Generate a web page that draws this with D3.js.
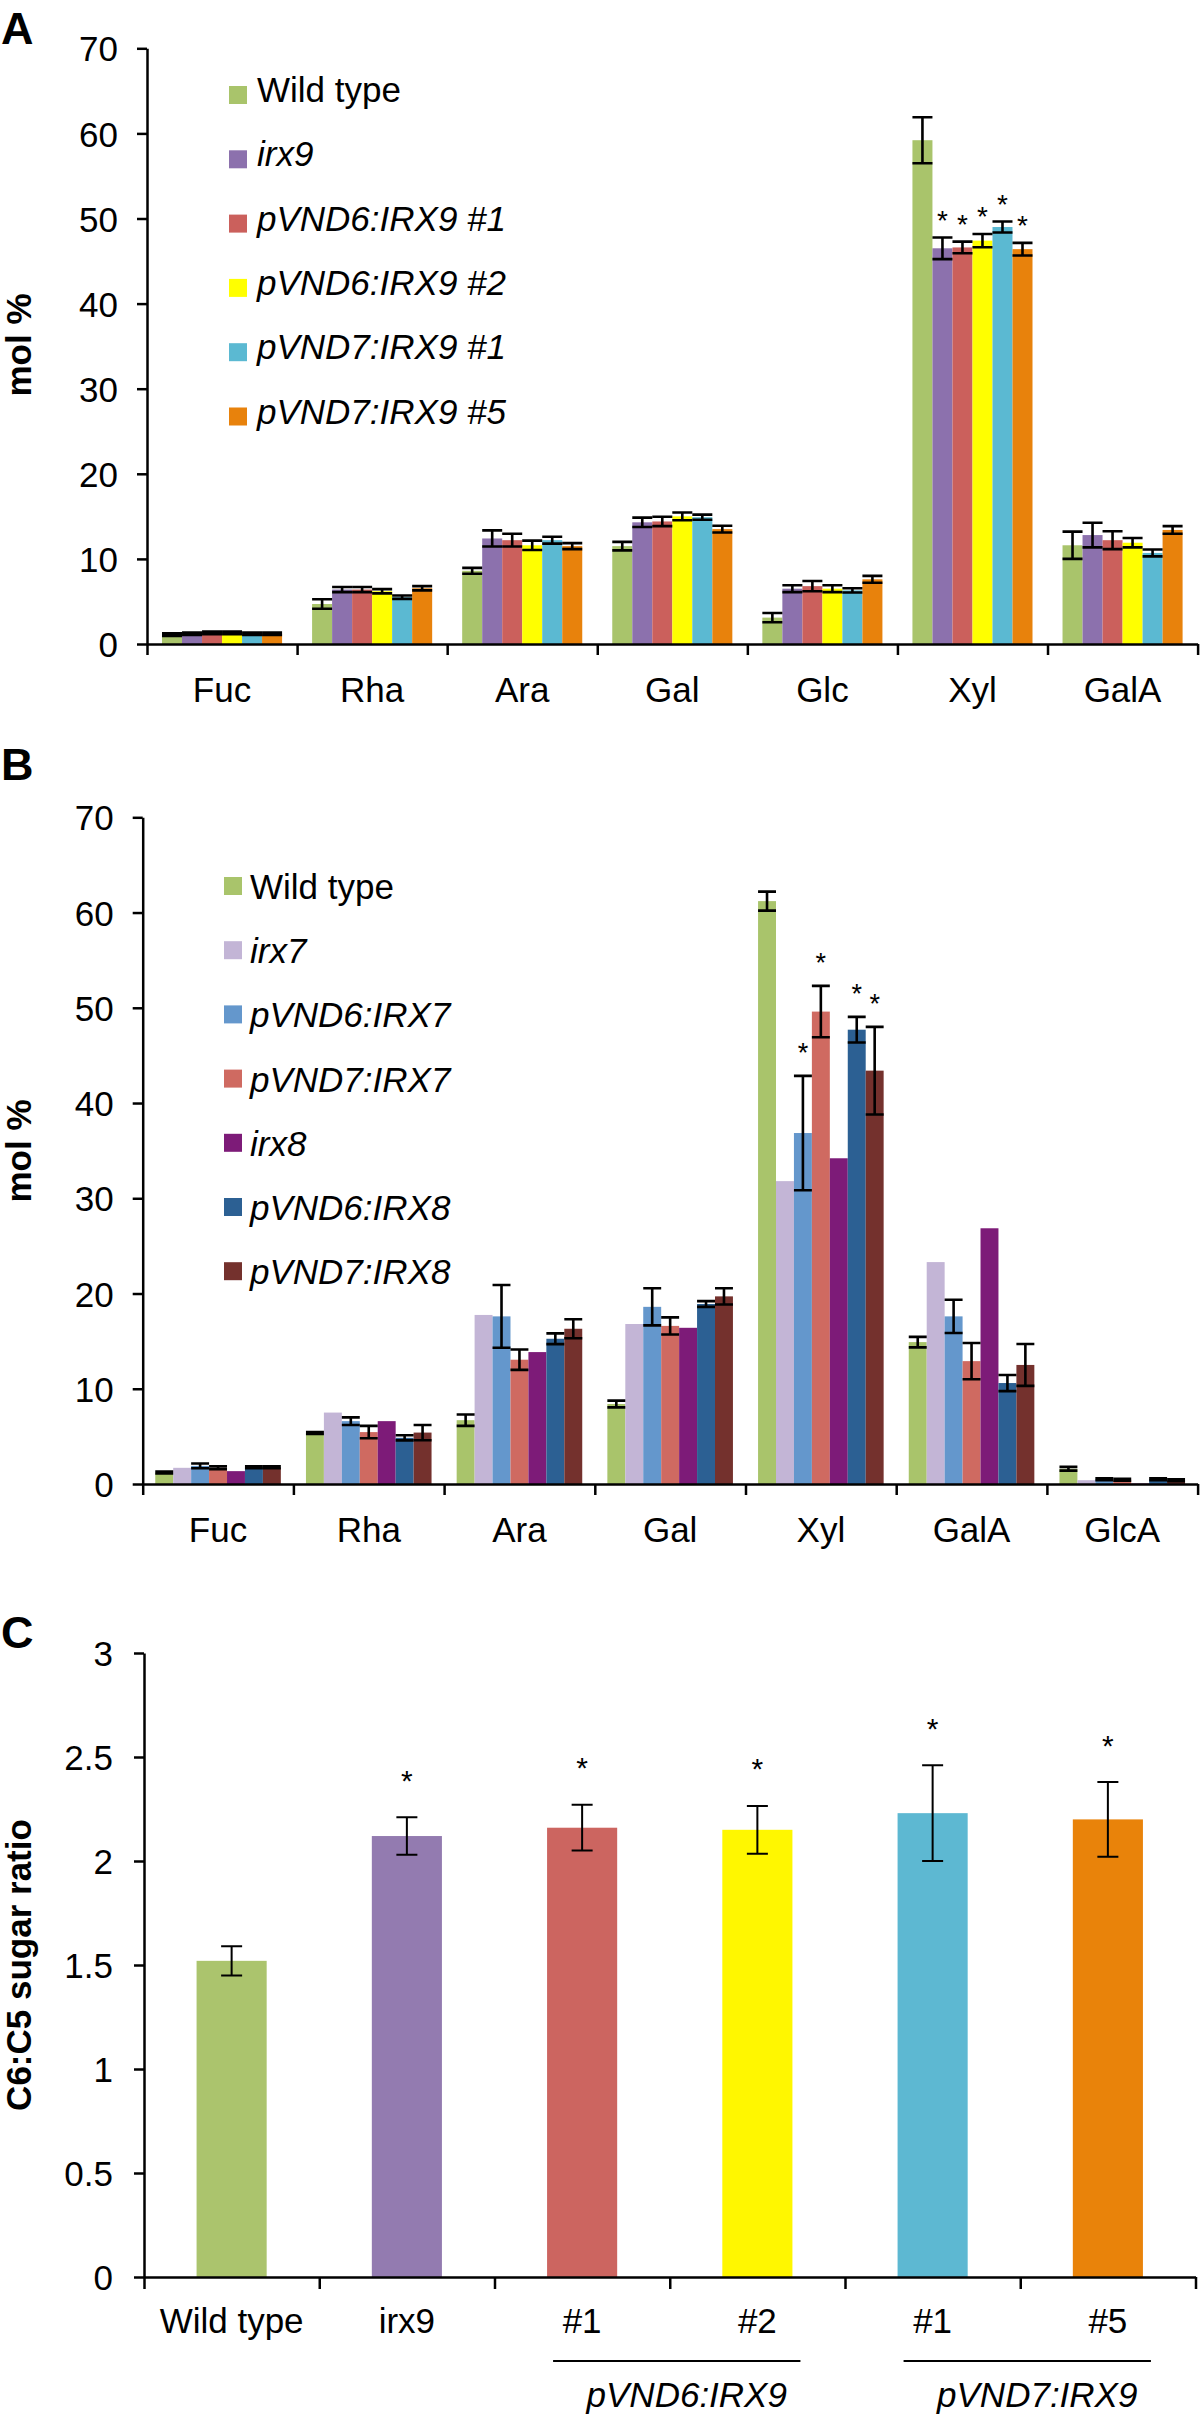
<!DOCTYPE html>
<html>
<head>
<meta charset="utf-8">
<script src="https://cdn.jsdelivr.net/npm/d3@7"></script>
<style>
    body { margin: 0; background: #fff; }
    svg text { font-family: "Liberation Sans", Arial, Helvetica, sans-serif; fill: #000; }
</style>
</head>
<body>
<svg id="fig" width="1200" height="2418"></svg>
<script>
'use strict';

// ---- panel A data ----
var sugarsA = ["Fuc", "Rha", "Ara", "Gal", "Glc", "Xyl", "GalA"];
var linesA = ["Wild type", "irx9", "pVND6:IRX9 #1", "pVND6:IRX9 #2", "pVND7:IRX9 #1", "pVND7:IRX9 #5"];
var molA = [
    [1.1, 4.7, 8.6, 11.5, 3.1, 59.2, 11.6],
    [1.2, 6.4, 12.4, 14.3, 6.5, 46.5, 12.8],
    [1.3, 6.4, 12.2, 14.4, 6.8, 46.6, 12.2],
    [1.3, 6.2, 11.6, 15.0, 6.5, 47.4, 11.9],
    [1.2, 5.5, 12.2, 14.9, 6.3, 49.0, 10.7],
    [1.2, 6.55, 11.5, 13.5, 7.6, 46.4, 13.4]
];
var errA = [
    [0.15, 0.55, 0.35, 0.5, 0.55, 2.7, 1.6],
    [0.15, 0.3, 0.95, 0.55, 0.4, 1.27, 1.45],
    [0.15, 0.3, 0.75, 0.55, 0.6, 0.68, 1.05],
    [0.15, 0.25, 0.55, 0.45, 0.4, 0.78, 0.55],
    [0.15, 0.2, 0.4, 0.3, 0.25, 0.65, 0.4],
    [0.15, 0.25, 0.35, 0.4, 0.4, 0.74, 0.45]
];
// [sugar index, line index] with an asterisk
var sigA = [[5, 1], [5, 2], [5, 3], [5, 4], [5, 5]];

// ---- panel B data ----
var sugarsB = ["Fuc", "Rha", "Ara", "Gal", "Xyl", "GalA", "GlcA"];
var linesB = ["Wild type", "irx7", "pVND6:IRX7", "pVND7:IRX7", "irx8", "pVND6:IRX8", "pVND7:IRX8"];
var molB = [
    [1.2, 5.35, 6.7, 8.4, 61.2, 14.9, 1.6],
    [1.7, 7.5, 17.75, 16.8, 31.8, 23.3, 0.4],
    [1.9, 6.6, 17.6, 18.6, 36.85, 17.6, 0.5],
    [1.7, 5.45, 13.05, 16.6, 49.6, 12.9, 0.45],
    [1.35, 6.6, 13.85, 16.4, 34.2, 26.85, 0.05],
    [1.75, 4.85, 15.25, 18.9, 47.7, 10.6, 0.5],
    [1.75, 5.4, 16.3, 19.7, 43.4, 12.5, 0.4]
];
var errB = [
    [0.1, 0.1, 0.6, 0.35, 1.0, 0.55, 0.2],
    null,
    [0.25, 0.4, 3.3, 1.95, 6.0, 1.75, 0.1],
    [0.15, 0.65, 1.07, 0.9, 2.7, 1.9, 0.1],
    null,
    [0.1, 0.27, 0.56, 0.3, 1.35, 0.85, 0.1],
    [0.1, 0.8, 1.0, 0.85, 4.6, 2.2, 0.1]
];
var sigB = [[4, 2], [4, 3], [4, 5], [4, 6]];

// ---- panel C data ----
var linesC = ["Wild type", "irx9", "#1", "#2", "#1", "#5"];
var ratioC = [1.52, 2.12, 2.16, 2.15, 2.23, 2.20];
var errC = [0.07, 0.09, 0.11, 0.115, 0.23, 0.18];
var sigC = [1, 2, 3, 4, 5];
var groupsC = [
    {label: "pVND6:IRX9", from: 2, to: 3},
    {label: "pVND7:IRX9", from: 4, to: 5}
];

var colorsA = ["#a9c46b", "#8c71ad", "#cb605c", "#ffff00", "#5bb9d2", "#e8820c"];
var colorsB = ["#a9c46b", "#c3b5d6", "#6497cc", "#cf6a61", "#7d1b78", "#2c6093", "#74312d"];
var colorsC = ["#abc46d", "#937bb0", "#cc6560", "#fff700", "#5db8d2", "#e9830a"];

var FONT = "'Liberation Sans', Arial, Helvetica, sans-serif";
var svg = d3.select("#fig");

function styleAxis(g, fontSize) {
    g.attr("font-family", FONT).attr("font-size", fontSize);
    g.selectAll("path, line").attr("stroke", "#000").attr("stroke-width", 2.5);
    g.selectAll("text").attr("fill", "#000");
}

function panelLetter(letter, y) {
    svg.append("text")
        .attr("x", 1)
        .attr("y", y)
        .attr("font-size", 45)
        .attr("font-weight", "bold")
        .text(letter);
}

function yTitle(label, cx, cy) {
    svg.append("text")
        .attr("transform", "translate(" + cx + "," + cy + ") rotate(-90)")
        .attr("text-anchor", "middle")
        .attr("font-size", 35)
        .attr("font-weight", "bold")
        .text(label);
}

function groupedPanel(p) {
    var g = svg.append("g");

    var x = d3.scaleBand().domain(p.groups).range([p.x0, p.x1]).padding(0);
    var xs = d3.scaleBand()
        .domain(d3.range(p.series.length))
        .range([0, x.bandwidth()])
        .paddingInner(0)
        .paddingOuter(p.outer);
    var y = d3.scaleLinear().domain([0, 70]).range([p.y0, p.y70]);

    // bars
    p.mean.forEach(function(row, s) {
        g.append("g").selectAll("rect")
            .data(row)
            .join("rect")
            .attr("x", function(d, i) { return x(p.groups[i]) + xs(s); })
            .attr("y", function(d) { return y(d); })
            .attr("width", xs.bandwidth())
            .attr("height", function(d) { return y(0) - y(d); })
            .attr("fill", p.colors[s]);
    });

    // error bars
    var eg = g.append("g").attr("stroke", "#000").attr("stroke-width", 2.6).attr("fill", "none");
    p.mean.forEach(function(row, s) {
        if (!p.err[s]) return;
        row.forEach(function(m, i) {
            var e = p.err[s][i];
            var cx = x(p.groups[i]) + xs(s) + xs.bandwidth() / 2;
            var hw = xs.bandwidth() / 2;
            eg.append("path")
                .attr("d", "M" + (cx - hw) + "," + y(m + e) + "H" + (cx + hw) +
                    "M" + cx + "," + y(m + e) + "V" + y(m - e) +
                    "M" + (cx - hw) + "," + y(m - e) + "H" + (cx + hw));
        });
    });

    // asterisks
    p.sig.forEach(function(k) {
        var i = k[0], s = k[1];
        var top = p.mean[s][i] + (p.err[s] ? p.err[s][i] : 0);
        var cx = x(p.groups[i]) + xs(s) + xs.bandwidth() / 2;
        g.append("text")
            .attr("x", cx)
            .attr("y", y(top) - p.starGap + 0.585 * p.starSize)
            .attr("text-anchor", "middle")
            .attr("font-size", p.starSize)
            .text("*");
    });

    // y axis
    var yAxis = d3.axisLeft(y)
        .tickValues(d3.range(0, 71, 10))
        .tickSize(10)
        .tickSizeOuter(0)
        .tickPadding(19);
    var ya = g.append("g").attr("transform", "translate(" + p.x0 + ",0)").call(yAxis);
    styleAxis(ya, 35);
    ya.selectAll("text").attr("dy", "0.36em");

    // x axis, ticks at the group boundaries
    var xi = d3.scaleLinear().domain([0, p.groups.length]).range([p.x0, p.x1]);
    var xAxis = d3.axisBottom(xi)
        .tickValues(d3.range(0, p.groups.length + 1))
        .tickSize(11)
        .tickSizeOuter(0)
        .tickFormat("");
    var xa = g.append("g").attr("transform", "translate(0," + p.y0 + ")").call(xAxis);
    styleAxis(xa, 35);

    g.append("g").selectAll("text")
        .data(p.groups)
        .join("text")
        .attr("x", function(d) { return x(d) + x.bandwidth() / 2; })
        .attr("y", p.y0 + 58)
        .attr("text-anchor", "middle")
        .attr("font-size", 35)
        .text(function(d) { return d; });

    // legend
    var lg = g.append("g");
    p.series.forEach(function(name, i) {
        var cy = p.legY + i * p.legDy;
        lg.append("rect")
            .attr("x", p.legX)
            .attr("y", cy - 9)
            .attr("width", 18)
            .attr("height", 18)
            .attr("fill", p.colors[i]);
        lg.append("text")
            .attr("x", p.legTextX)
            .attr("y", cy + p.legBase)
            .attr("font-size", 35)
            .attr("font-style", i === 0 ? "normal" : "italic")
            .text(name);
    });
}

// ---- A ----
panelLetter("A", 44);
yTitle("mol %", 31, 345);
groupedPanel({
    groups: sugarsA, series: linesA, mean: molA, err: errA, colors: colorsA, sig: sigA,
    x0: 147, x1: 1197.6, y0: 644, y70: 48.3, outer: 0.75,
    starGap: 24, starSize: 28,
    legX: 229, legTextX: 257, legY: 95, legDy: 64.3, legBase: 7
});

// ---- B ----
panelLetter("B", 780);
yTitle("mol %", 31, 1151);
groupedPanel({
    groups: sugarsB, series: linesB, mean: molB, err: errB, colors: colorsB, sig: sigB,
    x0: 142.7, x1: 1197.6, y0: 1484, y70: 817.3, outer: 0.7,
    starGap: 30, starSize: 27,
    legX: 224, legTextX: 250, legY: 886, legDy: 64.2, legBase: 13
});

// ---- C ----
panelLetter("C", 1648);
yTitle("C6:C5 sugar ratio", 31, 1965);

(function() {
    var g = svg.append("g");
    var x0 = 144, x1 = 1195.5, y0 = 2277, y3 = 1653;
    var idx = d3.range(linesC.length);
    var x = d3.scaleBand().domain(idx).range([x0, x1]).paddingInner(0.6).paddingOuter(0.3);
    var y = d3.scaleLinear().domain([0, 3]).range([y0, y3]);

    g.append("g").selectAll("rect")
        .data(ratioC)
        .join("rect")
        .attr("x", function(d, i) { return x(i); })
        .attr("y", function(d) { return y(d); })
        .attr("width", x.bandwidth())
        .attr("height", function(d) { return y(0) - y(d); })
        .attr("fill", function(d, i) { return colorsC[i]; });

    var eg = g.append("g").attr("stroke", "#000").attr("stroke-width", 2).attr("fill", "none");
    ratioC.forEach(function(m, i) {
        var e = errC[i];
        var cx = x(i) + x.bandwidth() / 2;
        var hw = 10.5;
        eg.append("path")
            .attr("d", "M" + (cx - hw) + "," + y(m + e) + "H" + (cx + hw) +
                "M" + cx + "," + y(m + e) + "V" + y(m - e) +
                "M" + (cx - hw) + "," + y(m - e) + "H" + (cx + hw));
    });

    g.append("g").selectAll("text")
        .data(sigC)
        .join("text")
        .attr("x", function(i) { return x(i) + x.bandwidth() / 2; })
        .attr("y", function(i) { return y(ratioC[i] + errC[i]) - 44 + 0.585 * 30; })
        .attr("text-anchor", "middle")
        .attr("font-size", 30)
        .text("*");

    var yAxis = d3.axisLeft(y)
        .tickValues(d3.range(0, 3.01, 0.5))
        .tickFormat(d3.format(""))
        .tickSize(10)
        .tickSizeOuter(0)
        .tickPadding(21);
    var ya = g.append("g").attr("transform", "translate(" + x0 + ",0)").call(yAxis);
    styleAxis(ya, 35);
    ya.selectAll("text").attr("dy", "0.36em");

    var xi = d3.scaleLinear().domain([0, linesC.length]).range([x0, x1]);
    var xAxis = d3.axisBottom(xi)
        .tickValues(d3.range(0, linesC.length + 1))
        .tickSize(12)
        .tickSizeOuter(0)
        .tickFormat("");
    var xa = g.append("g").attr("transform", "translate(0," + y0 + ")").call(xAxis);
    styleAxis(xa, 35);

    g.append("g").selectAll("text")
        .data(linesC)
        .join("text")
        .attr("x", function(d, i) { return x(i) + x.bandwidth() / 2; })
        .attr("y", 2333)
        .attr("text-anchor", "middle")
        .attr("font-size", 35)
        .text(function(d) { return d; });

    // construct brackets under the line labels
    groupsC.forEach(function(gr) {
        var a = x(gr.from) + 6;
        var b = x(gr.to) + x.bandwidth() + 8;
        g.append("line")
            .attr("x1", a).attr("x2", b)
            .attr("y1", 2361).attr("y2", 2361)
            .attr("stroke", "#000")
            .attr("stroke-width", 2);
        g.append("text")
            .attr("x", (a + b) / 2 + 10)
            .attr("y", 2407)
            .attr("text-anchor", "middle")
            .attr("font-size", 35)
            .attr("font-style", "italic")
            .text(gr.label);
    });
})();
</script>
</body>
</html>
